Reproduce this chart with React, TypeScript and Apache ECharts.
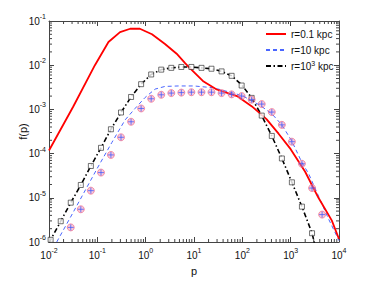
import React, { useEffect, useRef } from 'react';
import * as echarts from 'echarts';

// ---- data ----
const redP = [0.01, 0.0316, 0.0891, 0.17, 0.295, 0.479, 0.759, 1.35, 2.51, 4.37, 6.61, 8.32, 15.8, 29.5, 77.6, 158, 316, 562, 1000, 1995, 3758, 7079, 10000];
const redF = [1.175e-4, 1.15e-3, 0.0100, 0.0335, 0.056, 0.0668, 0.0668, 0.0501, 0.0302, 0.0182, 0.011, 8.51e-3, 4.27e-3, 2.82e-3, 2.0e-3, 1.17e-3, 6.03e-4, 2.82e-4, 1.26e-4, 3.89e-5, 1.0e-5, 3.09e-6, 1.17e-6];

const blueP = [0.01445, 0.0316, 0.1, 0.1995, 0.374, 0.604, 0.973, 1.567, 2.51, 4.75, 10, 25.1, 64.6, 100, 234, 408, 658, 1059, 1706, 2344, 3758, 6026, 10000];
const blueF = [1e-6, 4.68e-6, 4.68e-5, 1.78e-4, 5.75e-4, 1.05e-3, 1.86e-3, 2.88e-3, 3.31e-3, 3.39e-3, 3.39e-3, 3.09e-3, 2.34e-3, 2.04e-3, 1.23e-3, 7.94e-4, 4.47e-4, 1.91e-4, 6.31e-5, 3.55e-5, 1.1e-5, 3.39e-6, 1.07e-6];

const blackP = [0.01, 0.0108, 0.0175, 0.0282, 0.0455, 0.0735, 0.119, 0.191, 0.309, 0.499, 0.805, 1.3, 2.1, 3.39, 5.47, 8.83, 14.3, 23.0, 37.2, 60.0, 96.8, 156, 252, 407, 658, 1060, 1710, 2770, 3100];
const blackF = [9.6e-7, 1.12e-6, 2.95e-6, 7.76e-6, 1.95e-5, 5.25e-5, 1.35e-4, 3.55e-4, 8.51e-4, 1.91e-3, 3.72e-3, 6.17e-3, 7.94e-3, 8.71e-3, 9.12e-3, 9.12e-3, 8.71e-3, 8.32e-3, 7.24e-3, 5.75e-3, 3.6e-3, 1.82e-3, 7.24e-4, 2.51e-4, 7.76e-5, 2.24e-5, 6.31e-6, 1.58e-6, 9.5e-7];

const squareP = [0.0108, 0.0175, 0.0282, 0.0455, 0.0735, 0.119, 0.191, 0.309, 0.499, 0.805, 1.3, 2.1, 3.39, 5.47, 8.83, 14.3, 23.0, 37.2, 60.0, 96.8, 156, 252, 407, 658, 1060, 1710, 2770];
const squareF = [1.12e-6, 2.95e-6, 7.76e-6, 1.95e-5, 5.25e-5, 1.35e-4, 3.55e-4, 8.51e-4, 1.91e-3, 3.72e-3, 6.17e-3, 7.94e-3, 8.71e-3, 9.12e-3, 9.12e-3, 8.71e-3, 8.32e-3, 7.24e-3, 5.75e-3, 3.47e-3, 1.82e-3, 7.24e-4, 2.51e-4, 7.76e-5, 2.24e-5, 6.31e-6, 1.58e-6];

const circleP = [0.0282, 0.0455, 0.0735, 0.119, 0.191, 0.309, 0.499, 0.805, 1.3, 2.1, 3.39, 5.47, 8.83, 14.3, 23.0, 37.2, 60.0, 96.8, 156, 252, 407, 658, 1060, 1710, 2770, 4470];
const circleF = [2.14e-6, 5.5e-6, 1.45e-5, 3.72e-5, 9.33e-5, 2.34e-4, 5.25e-4, 1.05e-3, 1.74e-3, 2.14e-3, 2.34e-3, 2.4e-3, 2.45e-3, 2.45e-3, 2.45e-3, 2.34e-3, 2.19e-3, 2.0e-3, 1.66e-3, 1.32e-3, 8.71e-4, 4.47e-4, 1.86e-4, 5.89e-5, 1.66e-5, 4.17e-6];

const seriesNames = ['r=0.1 kpc', 'r=10 kpc', 'r=10^3 kpc'];
const X_MIN = 0.01, X_MAX = 10000;
const Y_MIN = 1e-6, Y_MAX = 0.1;
const xDecades = [-2, -1, 0, 1, 2, 3];
const yDecades = [-6, -5, -4, -3, -2];
const minorMult = [2, 3, 4, 5, 6, 7, 8, 9];

const FONT = 'Liberation Sans, Arial, sans-serif';
const AXIS_COLOR = '#444';

const zip = (a: number[], b: number[]) => a.map((v, i) => [v, b[i]]);

const xMinor: number[] = [];
xDecades.forEach((e) => minorMult.forEach((m) => xMinor.push(m * Math.pow(10, e))));
const yMinor: number[] = [];
yDecades.forEach((e) => minorMult.forEach((m) => yMinor.push(m * Math.pow(10, e))));

const powLabel = (v: number) => '{b|10}{sup|' + Math.round(Math.log10(v)) + '}';
const labelRich = {
  b: { fontSize: 10, fontFamily: FONT, color: '#111', lineHeight: 16 },
  sup: { fontSize: 7, fontFamily: FONT, color: '#111', lineHeight: 4, verticalAlign: 'top' },
};

export default function App() {
  const ref = useRef<HTMLDivElement>(null);
  useEffect(() => {
    document.body.style.margin = '0';
    if (!ref.current) return;
    const chart = echarts.init(ref.current, null, { renderer: 'svg' });
    const axisCommon = {
      type: 'log',
      logBase: 10,
      splitLine: { show: false },
      axisLine: { show: true, onZero: false, lineStyle: { color: AXIS_COLOR, width: 1 } },
      axisTick: { show: true, inside: true, length: 5, lineStyle: { color: AXIS_COLOR, width: 1 } },
    };
    const tickLine = (x1: number, y1: number, x2: number, y2: number) => ({
      type: 'line',
      shape: { x1, y1, x2, y2 },
      style: { stroke: AXIS_COLOR, lineWidth: 1 },
    });
    chart.setOption({
      animation: false,
      grid: { left: 49, right: 35, top: 21, bottom: 32 },
      legend: {
        data: seriesNames,
        orient: 'vertical',
        left: 265,
        top: 28,
        itemWidth: 20,
        itemHeight: 10,
        itemGap: 4,
        padding: 0,
        itemStyle: { opacity: 0 },
        formatter: (name: string) => (name === seriesNames[2] ? 'r=10{sup|3} kpc' : name),
        textStyle: {
          fontSize: 10,
          fontFamily: FONT,
          color: '#111',
          lineHeight: 12,
          rich: {
            sup: { fontSize: 7, fontFamily: FONT, color: '#111', lineHeight: 4, verticalAlign: 'top' },
          },
        },
      },
      xAxis: [
        {
          ...axisCommon,
          min: X_MIN,
          max: X_MAX,
          splitNumber: 6,
          position: 'bottom',
          name: 'p',
          nameLocation: 'middle',
          nameGap: 23,
          nameMoveOverlap: false,
          nameTextStyle: { fontSize: 11, fontFamily: FONT, color: '#111' },
          axisLabel: { formatter: powLabel, rich: labelRich, margin: 5 },
        },
        {
          ...axisCommon,
          min: X_MIN,
          max: X_MAX,
          splitNumber: 6,
          position: 'top',
          axisLabel: { show: false },
        },
      ],
      yAxis: [
        {
          ...axisCommon,
          min: Y_MIN,
          max: Y_MAX,
          splitNumber: 5,
          position: 'left',
          name: 'f(p)',
          nameLocation: 'middle',
          nameGap: 21,
          nameMoveOverlap: false,
          nameTextStyle: { fontSize: 11, fontFamily: FONT, color: '#111' },
          axisLabel: { formatter: powLabel, rich: labelRich, margin: 3 },
        },
        {
          ...axisCommon,
          min: Y_MIN,
          max: Y_MAX,
          splitNumber: 5,
          position: 'right',
          axisLabel: { show: false },
        },
      ],
      series: [
        {
          type: 'custom',
          silent: true,
          data: xMinor.map((v) => [v, Y_MIN]),
          renderItem: (_p: any, api: any) => {
            const v = api.value(0);
            const b = api.coord([v, Y_MIN]);
            const t = api.coord([v, Y_MAX]);
            return {
              type: 'group',
              children: [tickLine(b[0], b[1], b[0], b[1] - 3), tickLine(t[0], t[1], t[0], t[1] + 3)],
            };
          },
        },
        {
          type: 'custom',
          silent: true,
          data: yMinor.map((v) => [X_MIN, v]),
          renderItem: (_p: any, api: any) => {
            const v = api.value(1);
            const l = api.coord([X_MIN, v]);
            const r = api.coord([X_MAX, v]);
            return {
              type: 'group',
              children: [tickLine(l[0], l[1], l[0] + 3, l[1]), tickLine(r[0], r[1], r[0] - 3, r[1])],
            };
          },
        },
        {
          name: seriesNames[0],
          type: 'line',
          data: zip(redP, redF),
          showSymbol: false,
          symbol: 'none',
          lineStyle: { color: '#ff0000', width: 1.8 },
          itemStyle: { color: '#ff0000' },
          z: 4,
        },
        {
          name: seriesNames[1],
          type: 'line',
          data: zip(blueP, blueF),
          showSymbol: false,
          symbol: 'none',
          lineStyle: { color: '#4a66ff', width: 1, type: [4, 3] },
          itemStyle: { color: '#4a66ff' },
          z: 3,
        },
        {
          name: seriesNames[2],
          type: 'line',
          data: zip(blackP, blackF),
          showSymbol: false,
          symbol: 'none',
          lineStyle: { color: '#000', width: 1.6, type: [5, 2.5, 1.5, 2.5] },
          itemStyle: { color: '#000' },
          z: 3,
        },
        {
          type: 'scatter',
          data: zip(squareP, squareF),
          symbol: 'rect',
          symbolSize: 5,
          itemStyle: { color: '#fff', borderColor: '#222', borderWidth: 0.8 },
          z: 5,
        },
        {
          type: 'scatter',
          data: zip(circleP, circleF),
          symbol: 'circle',
          symbolSize: 7,
          itemStyle: { color: 'rgba(240,130,170,0.55)', borderColor: '#f06080', borderWidth: 0.8 },
          z: 5,
        },
        {
          type: 'scatter',
          data: zip(circleP, circleF),
          symbol: 'path://M5,0 L5,10 M0,5 L10,5',
          symbolSize: 6,
          itemStyle: { color: 'none', borderColor: '#3355ff', borderWidth: 0.9 },
          z: 6,
        },
      ],
    });
    return () => chart.dispose();
  }, []);
  return <div ref={ref} style={{ width: 374, height: 281 }} />;
}
